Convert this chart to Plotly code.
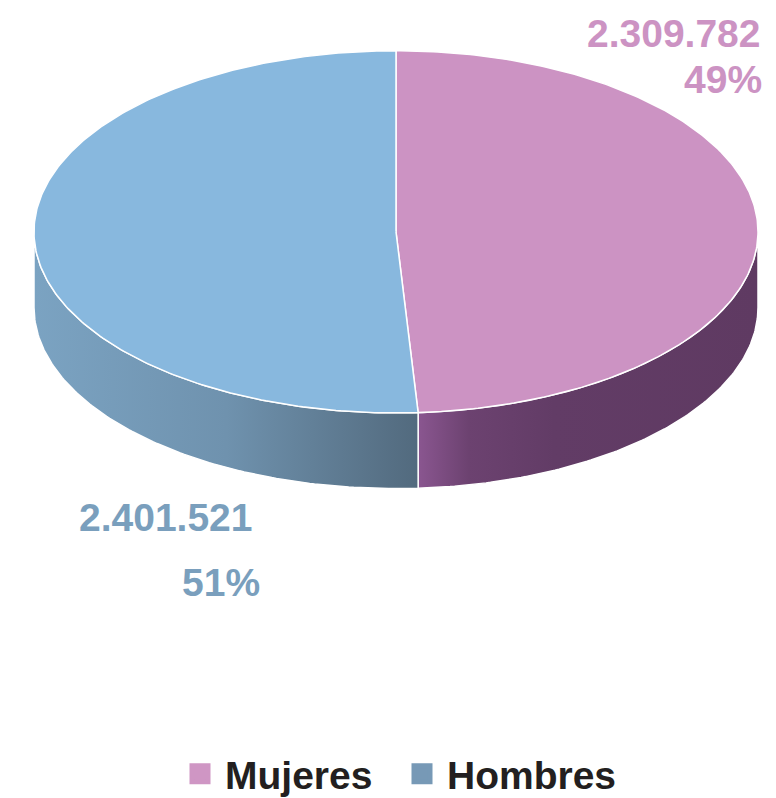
import numpy as np
import plotly.graph_objects as go

labels = ["Mujeres", "Hombres"]
values = [2309782, 2401521]
value_texts = ["2.309.782", "2.401.521"]
pct_texts = ["49%", "51%"]

top_colors = ["#cc93c3", "#88b8de"]
legend_colors = ["#cf96c4", "#7799b6"]
label_colors = ["#cc93c3", "#7a9fbd"]
side_scales = [
    [[0, "#8a5690"], [0.15, "#6c4270"], [0.4, "#623c66"], [1, "#5f3a62"]],
    [[0, "#7ba3c2"], [0.5, "#6f92ae"], [0.85, "#5b768c"], [1, "#526a7e"]],
]

W, H = 776, 798
OFF = 8  # page body margin
cx, cy, rx, ry, depth = 396, 233, 362, 182, 76


def pt(theta_deg, dy=0.0):
    t = np.radians(theta_deg)
    return cx + rx * np.sin(t), cy - ry * np.cos(t) + dy


fig = go.Figure()

total = sum(values)
starts = []
acc = 0.0
for v in values:
    starts.append(acc / total * 360)
    acc += v
ends = [s + v / total * 360 for s, v in zip(starts, values)]

# sides (front, visible part: 90..270 degrees)
for i in range(len(values)):
    a = max(starts[i], 90)
    b = min(ends[i], 270)
    if b <= a:
        continue
    th = np.linspace(a, b, 120)
    xt, yt = pt(th)
    xb, yb = pt(th[::-1], depth)
    xs = np.concatenate([xt, xb, [xt[0]]])
    ys = np.concatenate([yt, yb, [yt[0]]])
    fig.add_trace(go.Scatter(
        x=xs, y=ys, mode="lines", fill="toself",
        fillgradient=dict(type="horizontal", colorscale=side_scales[i]),
        line=dict(color="white", width=1.5),
        hoverinfo="skip", showlegend=False))

# tops
for i in range(len(values)):
    th = np.linspace(starts[i], ends[i], 240)
    xa, ya = pt(th)
    xs = np.concatenate([[cx], xa, [cx]])
    ys = np.concatenate([[cy], ya, [cy]])
    fig.add_trace(go.Scatter(
        x=xs, y=ys, mode="lines", fill="toself", fillcolor=top_colors[i],
        line=dict(color="white", width=1.5),
        hoverinfo="skip", showlegend=False))

# legend entries
for i in range(len(values)):
    fig.add_trace(go.Scatter(
        x=[None], y=[None], mode="markers", name=labels[i],
        marker=dict(symbol="square", size=24, color=legend_colors[i],
                    line=dict(color=legend_colors[i], width=5))))

font_family = "Liberation Sans, Arial, sans-serif"
ann = [
    (value_texts[0], 763, 34, label_colors[0]),
    (pct_texts[0], 764, 80, label_colors[0]),
    (value_texts[1], 255, 520, label_colors[1]),
    (pct_texts[1], 262, 585, label_colors[1]),
]
for txt, x, y, c in ann:
    fig.add_annotation(x=x, y=y, xref="x", yref="y", text=txt, showarrow=False,
                       xanchor="right", yanchor="middle",
                       font=dict(family=font_family, size=39, color=c, weight="bold"))

fig.update_layout(
    width=W, height=H,
    margin=dict(l=0, r=0, t=0, b=0),
    paper_bgcolor="white", plot_bgcolor="white",
    xaxis=dict(range=[OFF, W + OFF], visible=False, fixedrange=True),
    yaxis=dict(range=[H + OFF, OFF], visible=False, fixedrange=True),
    showlegend=True,
    legend=dict(orientation="h", x=(175 - OFF) / W, xanchor="left",
                y=1 - (778 - OFF) / H, yanchor="middle",
                itemwidth=40,
                entrywidth=167, entrywidthmode="pixels",
                font=dict(family=font_family, size=39, color="#231f20", weight="bold")),
)

fig.write_html("out.html")
